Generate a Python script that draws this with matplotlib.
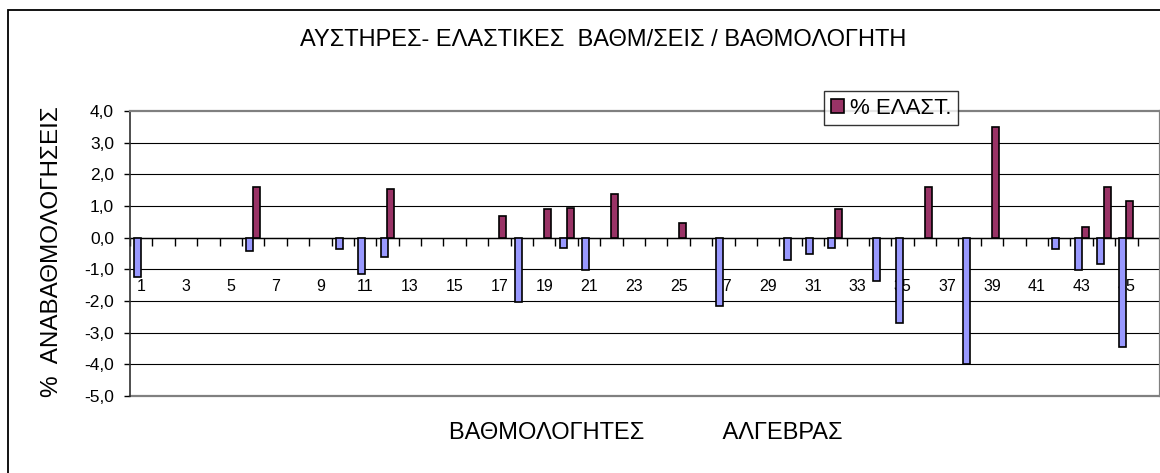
import matplotlib
matplotlib.use('Agg')
import matplotlib.pyplot as plt
from matplotlib.patches import Rectangle
from matplotlib.ticker import FuncFormatter
import numpy as np

plt.rcParams['font.family'] = ['Liberation Sans', 'DejaVu Sans']

# βαθμολογητές 1..45
graders = list(range(1, 46))

# % αυστηρές (μπλε) - αρνητικές τιμές
strict = [-1.24, 0, 0, 0, 0, -0.42, 0, 0, 0, -0.36,
          -1.14, -0.62, 0, 0, 0, 0, 0, -2.03, 0, -0.33,
          -1.03, 0, 0, 0, 0, 0, -2.17, 0, 0, -0.70,
          -0.53, -0.33, 0, -1.36, -2.68, 0, 0, -4.0, 0, 0,
          0, -0.35, -1.01, -0.82, -3.45]

# % ελαστικές (μπορντό)
lenient = [0, 0, 0, 0, 0, 1.60, 0, 0, 0, 0,
           0, 1.55, 0, 0, 0, 0, 0.67, 0, 0.90, 0.93,
           0, 1.39, 0, 0, 0.45, 0, 0, 0, 0, 0,
           0, 0.92, 0, 0, 0, 1.60, 0, 0, 3.51, 0,
           0, 0, 0.33, 1.60, 1.15]

y_ticks = [-5, -4, -3, -2, -1, 0, 1, 2, 3, 4]
x_labels = [str(g) for g in graders if g % 2 == 1]

W, H = 1160, 473
fig = plt.figure(figsize=(W / 100, H / 100), dpi=100)

# εξωτερικό πλαίσιο γραφήματος
fig.patches.append(Rectangle((8 / W, -0.05), 1.1, 1 - 10 / H + 0.05,
                             transform=fig.transFigure, fill=False,
                             edgecolor='black', linewidth=1.3))

left, right = 130, 1160
top, bottom = 111, 396
ax = fig.add_axes([left / W, 1 - bottom / H, (right - left) / W, (bottom - top) / H])

x = np.array(graders)
s = np.array(strict, dtype=float)
e = np.array(lenient, dtype=float)
bw = 0.31
# μηδενικές τιμές δεν σχεδιάζονται
ax.bar(x[s != 0] - bw / 2, s[s != 0], width=bw, color='#9999ff', edgecolor='black',
       linewidth=1.2, label='% ΑΥΣΤ.', zorder=3)
b2 = ax.bar(x[e != 0] + bw / 2, e[e != 0], width=bw, color='#993366', edgecolor='black',
            linewidth=1.2, label='% ΕΛΑΣΤ.', zorder=3)

ax.set_xlim(0.5, 0.5 + (right - left) / 22.47)
ax.set_ylim(-5, 4)

# γραμμές πλέγματος
for v in y_ticks:
    if v in (-5, 4):
        continue
    ax.axhline(v, color='black', linewidth=0.8, zorder=1)

for sp in ['top', 'right']:
    ax.spines[sp].set_color('#808080')
    ax.spines[sp].set_linewidth(1.6)
ax.spines['left'].set_color('#303030')
ax.spines['left'].set_linewidth(1.2)
ax.spines['bottom'].set_position(('data', 0))
ax.spines['bottom'].set_color('black')
ax.spines['bottom'].set_linewidth(1.0)
ax.spines['bottom'].set_zorder(2)
ax.axhline(-5, color='#808080', linewidth=1.6, zorder=1, clip_on=False)

ax.set_yticks(y_ticks)
ax.yaxis.set_major_formatter(FuncFormatter(lambda v, p: f'{v:.1f}'.replace('.', ',')))
ax.tick_params(axis='y', direction='out', length=4.5, width=1, pad=7, labelsize=12.5)

ax.set_xticks([g for g in graders if g % 2 == 1])
ax.set_xticklabels(x_labels)
ax.set_xticks(np.arange(0.5, 47, 1), minor=True)
ax.tick_params(axis='x', which='major', length=0, pad=30, labelsize=11.5)
ax.tick_params(axis='x', which='minor', direction='out', length=5.5, width=1)

fig.text(603 / W, 1 - 40 / H, 'ΑΥΣΤΗΡΕΣ- ΕΛΑΣΤΙΚΕΣ  ΒΑΘΜ/ΣΕΙΣ / ΒΑΘΜΟΛΟΓΗΤΗ',
         ha='center', va='center', fontsize=17)
fig.text(52 / W, 1 - 252 / H, '%  ΑΝΑΒΑΘΜΟΛΟΓΗΣΕΙΣ', rotation=90,
         ha='center', va='center', fontsize=17.5)
fig.text(646 / W, 1 - 433 / H, 'ΒΑΘΜΟΛΟΓΗΤΕΣ            ΑΛΓΕΒΡΑΣ',
         ha='center', va='center', fontsize=17)

leg = fig.legend(handles=[b2], labels=['% ΕΛΑΣΤ.'], loc='upper left',
                 bbox_to_anchor=(824 / W, 1 - 91 / H), fontsize=16,
                 frameon=True, fancybox=False, borderaxespad=0,
                 handlelength=0.6, handleheight=0.6, handletextpad=0.25,
                 borderpad=0.3)
leg.get_frame().set_edgecolor('black')
leg.get_frame().set_linewidth(1.0)

fig.savefig('out.png', dpi=100)
